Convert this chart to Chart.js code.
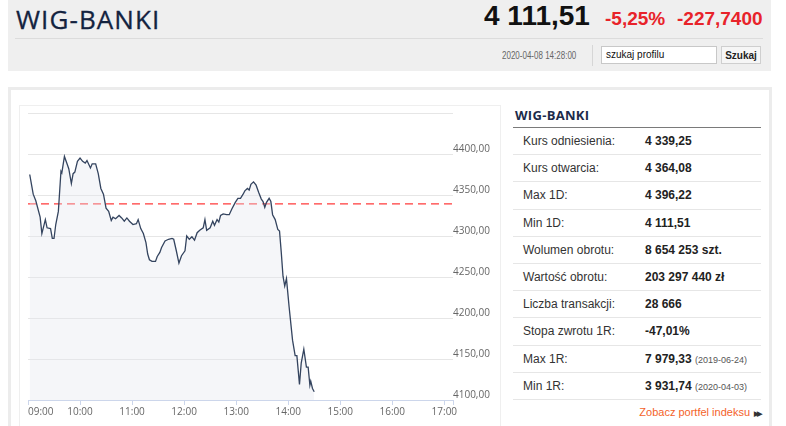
<!DOCTYPE html>
<html>
<head>
<meta charset="utf-8">
<script src="https://cdn.jsdelivr.net/npm/chart.js@4"></script>
<style>
  body { margin: 0; background: #fff; font-family: "Liberation Sans", Arial, sans-serif; }
  .abs { position: absolute; white-space: nowrap; }
  #head { left: 8px; top: 0; width: 763px; height: 71px; background: #efefef; }
  #title { left: 16px; top: 1px; font: 26px "Open Sans", sans-serif; letter-spacing: 1.1px; color: #13233f; -webkit-text-stroke: 0.3px #13233f; }
  #hline { left: 15px; top: 38px; width: 748px; height: 1px; background: #dcdcdc; }
  #price { left: 484px; top: 2px; font-size: 28px; line-height: 28px; font-weight: bold; color: #111; }
  #pct { left: 605px; top: 9px; font-size: 19px; line-height: 19px; font-weight: bold; color: #e8232a; }
  #chg { left: 677px; top: 9px; font-size: 19px; line-height: 19px; font-weight: bold; color: #e8232a; }
  #stamp { left: 502px; top: 50px; font-size: 10px; color: #666; transform: scaleX(0.8); transform-origin: left top; }
  #vsep { left: 592px; top: 45px; width: 1px; height: 21px; background: #d6d6d6; }
  #search { left: 601px; top: 46px; height: 16px; width: 110px; background: #fff; border: 1px solid #c8c8c8; font-size: 10px; color: #111; padding-left: 4px; line-height: 16px; }
  #btn { left: 721px; top: 46px; width: 40px; height: 18px; background: #f6f6f6; border: 1px solid #cfcfcf; font-size: 10px; font-weight: bold; color: #222; text-align: center; line-height: 18px; box-sizing: border-box; }
  #panel { left: 8px; top: 87px; width: 758px; height: 345px; border: 3px solid #ececec; border-bottom: none; }
  #chartbox { left: 19px; top: 105px; width: 480px; height: 330px; border: 1px solid #efefef; border-bottom: none; }
  #chartwrap { left: 20px; top: 105px; width: 480px; height: 320px; }
  #stitle { left: 515px; top: 106px; font: bold 13px "Open Sans", sans-serif; letter-spacing: 0.3px; color: #1c2b4a; }
  #sline { left: 513px; top: 127px; width: 248px; height: 1px; background: #7a7a7a; }
  #stats { left: 513px; top: 128px; width: 248px; }
  .row { height: 26.2px; border-bottom: 1px solid #e6e6e6; font-size: 12px; line-height: 26px; position: relative; }
  .lab { position: absolute; left: 10px; color: #333; }
  .val { position: absolute; left: 132px; color: #222; font-weight: bold; }
  .val small { font-weight: normal; font-size: 9px; color: #555; }
  #more { right: 26px; top: 406px; font-size: 11px; color: #f4622a; }
  #more b { color: #333; font-size: 7px; letter-spacing: -2px; margin-left: 4px; }
</style>
</head>
<body>
<div id="head" class="abs"></div>
<div id="title" class="abs">WIG-BANKI</div>
<div id="hline" class="abs"></div>
<div id="price" class="abs">4 111,51</div>
<div id="pct" class="abs">-5,25%</div>
<div id="chg" class="abs">-227,7400</div>
<div id="stamp" class="abs">2020-04-08 14:28:00</div>
<div id="vsep" class="abs"></div>
<div id="search" class="abs">szukaj profilu</div>
<div id="btn" class="abs">Szukaj</div>

<div id="panel" class="abs"></div>
<div id="chartbox" class="abs"></div>
<div id="chartwrap" class="abs"><canvas id="chart" width="480" height="320"></canvas></div>

<div id="stitle" class="abs">WIG-BANKI</div>
<div id="sline" class="abs"></div>
<div id="stats" class="abs"></div>
<div id="more" class="abs">Zobacz portfel indeksu<b>&#9654;&#9654;</b></div>

<script>
// intraday quotes
const times = [
  "09:02", "09:06", "09:09", "09:14", "09:16", "09:20", "09:22", "09:26", "09:28", "09:30",
  "09:32", "09:35", "09:38", "09:39", "09:42", "09:45", "09:47", "09:50", "09:52", "09:54",
  "09:57", "10:00", "10:03", "10:06", "10:08", "10:12", "10:14", "10:18", "10:21", "10:24",
  "10:27", "10:30", "10:33", "10:36", "10:38", "10:41", "10:45", "10:48", "10:51", "10:54",
  "10:57", "11:01", "11:05", "11:07", "11:10", "11:13", "11:16", "11:18", "11:20", "11:23",
  "11:27", "11:29", "11:32", "11:34", "11:38", "11:42", "11:46", "11:48", "11:51", "11:54",
  "11:57", "12:01", "12:03", "12:06", "12:09", "12:12", "12:15", "12:18", "12:22", "12:24",
  "12:26", "12:30", "12:33", "12:35", "12:38", "12:40", "12:42", "12:45", "12:49", "12:52",
  "12:55", "12:59", "13:02", "13:05", "13:08", "13:10", "13:13", "13:15", "13:17", "13:20",
  "13:23", "13:26", "13:29", "13:31", "13:33", "13:35", "13:38", "13:40", "13:42", "13:45",
  "13:48", "13:50", "13:52", "13:54", "13:56", "13:58", "14:01", "14:05", "14:08", "14:10",
  "14:13", "14:15", "14:18", "14:21", "14:23", "14:25", "14:26", "14:28", "14:30"
];
const values = [
  4375, 4351, 4343, 4323, 4303, 4320, 4310, 4309, 4297, 4297,
  4314, 4330, 4379, 4377, 4397, 4388, 4382, 4364, 4376, 4378,
  4391, 4395, 4391, 4389, 4392, 4383, 4388, 4388, 4376, 4358,
  4351, 4334, 4330, 4319, 4323, 4321, 4325, 4322, 4318, 4322,
  4318, 4314, 4315, 4320, 4309, 4303, 4292, 4278, 4271, 4269,
  4269, 4275, 4280, 4286, 4294, 4296, 4297, 4296, 4282, 4267,
  4276, 4282, 4300, 4296, 4299, 4295, 4304, 4307, 4310, 4320,
  4307, 4310, 4318, 4313, 4320, 4317, 4325, 4327, 4326, 4326,
  4333, 4341, 4346, 4346, 4351, 4355, 4358, 4356, 4363, 4366,
  4362, 4353, 4345, 4342, 4335, 4341, 4346, 4342, 4326, 4320,
  4308, 4306, 4280, 4251, 4239, 4248, 4214, 4173, 4154, 4154,
  4119, 4145, 4162, 4140, 4140, 4118, 4123, 4114, 4110
];
const refPrice = 4339.25;
const hourLabels = ["09:00", "10:00", "11:00", "12:00", "13:00", "14:00", "15:00", "16:00", "17:00"];

const statLabels = ["Kurs odniesienia:", "Kurs otwarcia:", "Max 1D:", "Min 1D:", "Wolumen obrotu:",
  "Wartość obrotu:", "Liczba transakcji:", "Stopa zwrotu 1R:", "Max 1R:", "Min 1R:"];
const statValues = ["4 339,25", "4 364,08", "4 396,22", "4 111,51", "8 654 253 szt.",
  "203 297 440 zł", "28 666", "-47,01%", "7 979,33", "3 931,74"];
const statDates = ["", "", "", "", "", "", "", "", "(2019-06-24)", "(2020-04-03)"];

const statsDiv = document.getElementById("stats");
statLabels.forEach((l, i) => {
  const row = document.createElement("div");
  row.className = "row";
  row.innerHTML = `<span class="lab">${l}</span><span class="val">${statValues[i]}` +
    (statDates[i] ? ` <small>${statDates[i]}</small>` : "") + `</span>`;
  statsDiv.appendChild(row);
});

function toMin(t) {
  const [h, m] = t.split(":").map(Number);
  return h * 60 + m;
}

const xMin = toMin("09:00");
const xMax = toMin("17:10");

Chart.defaults.font.family = "'Open Sans', sans-serif";
Chart.defaults.font.size = 10;
Chart.defaults.color = "#666";

new Chart(document.getElementById("chart").getContext("2d"), {
  type: "line",
  data: {
    datasets: [
      {
        data: times.map((t, i) => ({ x: toMin(t), y: values[i] })),
        borderColor: "#34445f",
        borderWidth: 1.3,
        backgroundColor: "rgba(225,230,238,0.35)",
        fill: "start",
        pointRadius: 0,
        tension: 0
      },
      {
        data: [{ x: xMin, y: refPrice }, { x: xMax, y: refPrice }],
        borderColor: "#ff3b3b",
        borderWidth: 1.3,
        borderDash: [8, 5],
        pointRadius: 0,
        fill: false
      }
    ]
  },
  options: {
    responsive: false,
    animation: false,
    layout: { padding: { left: 8, top: 8, right: 0, bottom: 0 } },
    plugins: { legend: { display: false }, tooltip: { enabled: false } },
    scales: {
      x: {
        type: "linear",
        min: xMin,
        max: xMax,
        afterBuildTicks(s) {
          s.ticks = hourLabels.map((_, i) => ({ value: xMin + 60 * i })).concat([{ value: xMax }]);
        },
        afterFit(s) { s.height = 25; },
        grid: { drawOnChartArea: false, color: "#ccd6eb", tickLength: 5 },
        border: { color: "#ccd6eb" },
        ticks: {
          autoSkip: false,
          maxRotation: 0,
          align: "inner",
          padding: 1,
          callback: v => (v - xMin) % 60 === 0 ? hourLabels[(v - xMin) / 60] || "" : ""
        }
      },
      y: {
        position: "right",
        min: 4100,
        max: 4450,
        afterFit(s) { s.width = 47; },
        grid: { color: "#e6e6e6", drawTicks: false },
        border: { display: false },
        ticks: {
          stepSize: 50,
          padding: 0,
          labelOffset: -5,
          callback: v => v >= 4450 ? "" : v.toFixed(2).replace(".", ",")
        }
      }
    }
  }
});
</script>
</body>
</html>
